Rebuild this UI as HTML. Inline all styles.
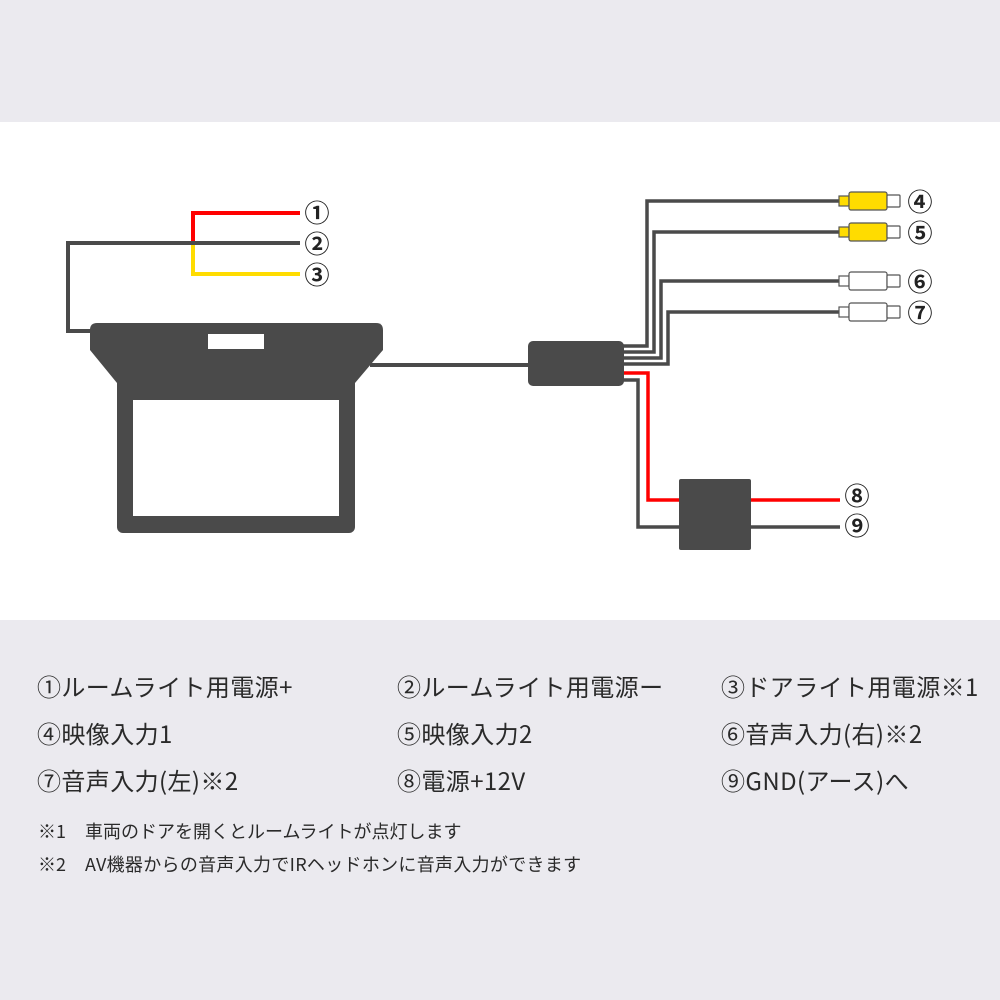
<!DOCTYPE html>
<html><head><meta charset="utf-8"><style>
body{margin:0;width:1000px;height:1000px;position:relative;background:#ebeaef;overflow:hidden;font-family:"Noto Sans CJK JP","Liberation Sans",sans-serif;color:#2a2a2a}
.w{position:absolute;left:0;top:122px;width:1000px;height:498px;background:#fff}
.t{position:absolute;font-size:24px;line-height:28px;white-space:nowrap;letter-spacing:0.4px}
.n{position:absolute;font-size:18px;line-height:22px;white-space:nowrap}
svg{position:absolute;left:0;top:0}
</style></head><body>
<div class="w"></div>
<svg width="1000" height="1000" viewBox="0 0 1000 1000">
<g fill="none" stroke-width="4">
<polyline points="300,213 193,213 193,244" stroke="#f00"/>
<polyline points="193,244 193,274 300,274" stroke="#ffdc00"/>
<polyline points="300,243 68,243 68,331 95,331" stroke="#4a4a4a"/>
<line x1="370" y1="365" x2="530" y2="365" stroke="#4a4a4a"/>
<g stroke="#4a4a4a" stroke-width="3.5">
<polyline points="620,346 647,346 647,201 840,201"/>
<polyline points="620,352 654,352 654,232 840,232"/>
<polyline points="620,358 661,358 661,281 840,281"/>
<polyline points="620,364 668,364 668,312 840,312"/>
<polyline points="620,380 638,380 638,527 840,527"/>
</g>
<polyline points="620,373 648,373 648,500 840,500" stroke="#f00" stroke-width="3.5"/>
</g>
<path d="M97,323 H376 Q383,323 383,330 V350 L355,383 H117 L90,350 V330 Q90,323 97,323Z" fill="#4a4a4a"/>
<rect x="117" y="370" width="238" height="163" rx="6" fill="#4a4a4a"/>
<rect x="133" y="400" width="206" height="116" fill="#fff"/>
<rect x="208" y="334" width="56" height="15" fill="#fff"/>
<rect x="528" y="341" width="96" height="45" rx="5" fill="#4a4a4a"/>
<rect x="679" y="479" width="72" height="71" rx="2" fill="#4a4a4a"/>
<g stroke="#555" stroke-width="1.2">
<g transform="translate(0,201)"><rect x="839" y="-5" width="10" height="10" fill="#ffdc00"/><rect x="849" y="-9" width="38" height="18" rx="2" fill="#ffdc00"/><rect x="887" y="-6" width="13" height="12" rx="1" fill="#fff"/></g>
<g transform="translate(0,232)"><rect x="839" y="-5" width="10" height="10" fill="#ffdc00"/><rect x="849" y="-9" width="38" height="18" rx="2" fill="#ffdc00"/><rect x="887" y="-6" width="13" height="12" rx="1" fill="#fff"/></g>
<g transform="translate(0,281)"><rect x="839" y="-5" width="10" height="10" fill="#fff"/><rect x="849" y="-9" width="38" height="18" rx="2" fill="#fff"/><rect x="887" y="-6" width="13" height="12" rx="1" fill="#fff"/></g>
<g transform="translate(0,312)"><rect x="839" y="-5" width="10" height="10" fill="#fff"/><rect x="849" y="-9" width="38" height="18" rx="2" fill="#fff"/><rect x="887" y="-6" width="13" height="12" rx="1" fill="#fff"/></g>
</g>
<g font-family="Noto Sans CJK JP, sans-serif" font-size="25" font-weight="bold" fill="#222" text-anchor="middle">
<text x="317" y="222">①</text><text x="317" y="253">②</text><text x="317" y="284">③</text>
<text x="920" y="211">④</text><text x="920" y="242">⑤</text><text x="920" y="291">⑥</text><text x="920" y="322">⑦</text>
<text x="857" y="505">⑧</text><text x="857" y="535">⑨</text>
</g>
</svg>
<div class="t" style="left:37px;top:672px">①ルームライト用電源+</div>
<div class="t" style="left:397px;top:672px">②ルームライト用電源ー</div>
<div class="t" style="left:721px;top:672px">③ドアライト用電源※1</div>
<div class="t" style="left:37px;top:719px">④映像入力1</div>
<div class="t" style="left:397px;top:719px">⑤映像入力2</div>
<div class="t" style="left:721px;top:719px">⑥音声入力(右)※2</div>
<div class="t" style="left:37px;top:766px">⑦音声入力(左)※2</div>
<div class="t" style="left:397px;top:766px">⑧電源+12V</div>
<div class="t" style="left:721px;top:766px">⑨GND(アース)へ</div>
<div class="n" style="left:38px;top:820px">※1</div>
<div class="n" style="left:85px;top:820px">車両のドアを開くとルームライトが点灯します</div>
<div class="n" style="left:38px;top:853px">※2</div>
<div class="n" style="left:85px;top:853px;letter-spacing:0.3px">AV機器からの音声入力でIRヘッドホンに音声入力ができます</div>
</body></html>
